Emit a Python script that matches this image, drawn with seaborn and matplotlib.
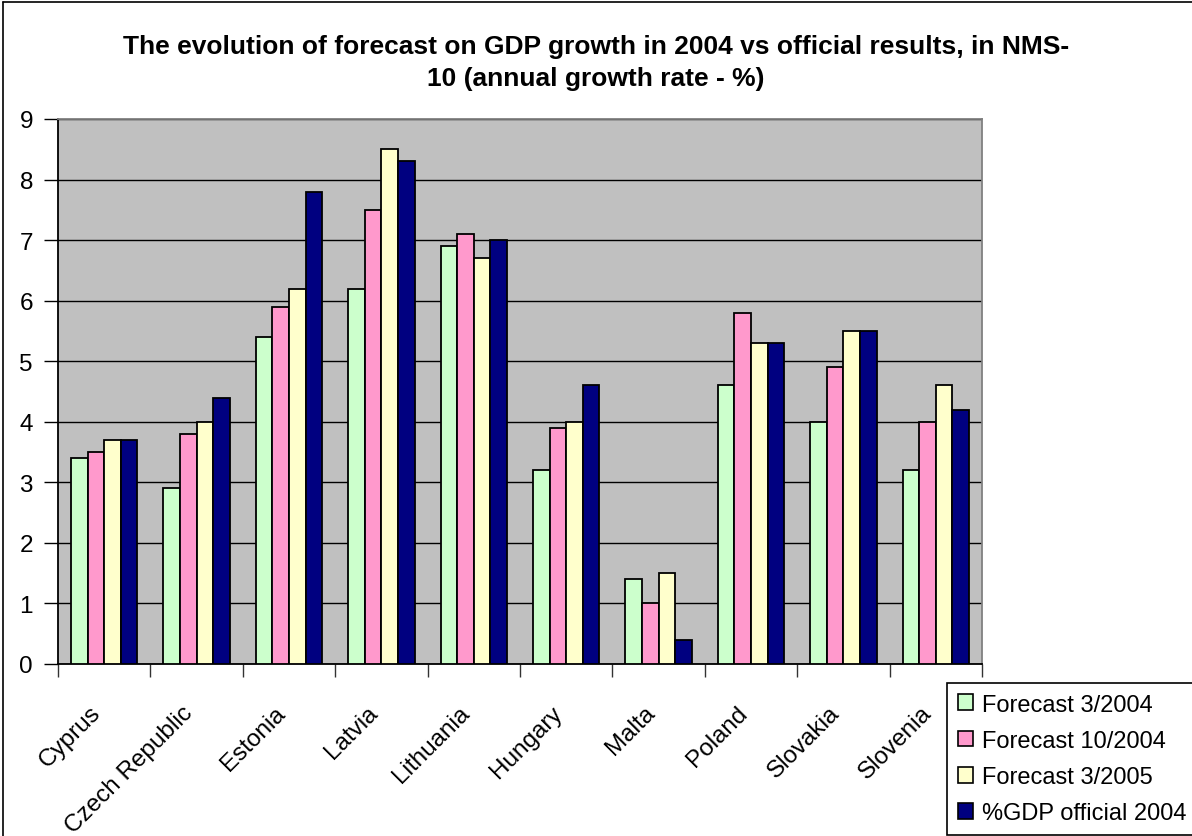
import matplotlib
matplotlib.use("Agg")
import matplotlib.pyplot as plt
import matplotlib.transforms as mtransforms
import seaborn as sns
import pandas as pd
import numpy as np
from matplotlib.patches import Patch
from matplotlib.lines import Line2D

countries = ["Cyprus", "Czech Republic", "Estonia", "Latvia", "Lithuania",
             "Hungary", "Malta", "Poland", "Slovakia", "Slovenia"]
series_names = ["Forecast 3/2004", "Forecast 10/2004", "Forecast 3/2005",
                "%GDP official 2004"]
forecast_3_2004 = [3.4, 2.9, 5.4, 6.2, 6.9, 3.2, 1.4, 4.6, 4.0, 3.2]
forecast_10_2004 = [3.5, 3.8, 5.9, 7.5, 7.1, 3.9, 1.0, 5.8, 4.9, 4.0]
forecast_3_2005 = [3.7, 4.0, 6.2, 8.5, 6.7, 4.0, 1.5, 5.3, 5.5, 4.6]
official_2004 = [3.7, 4.4, 7.8, 8.3, 7.0, 4.6, 0.4, 5.3, 5.5, 4.2]
y_ticks = list(range(0, 10))
title = ("The evolution of forecast on GDP growth in 2004 vs official results, in NMS-\n"
         "10 (annual growth rate - %)")

colors = ["#CCFFCC", "#FF99CC", "#FFFFCC", "#000080"]

rows = []
for name, vals in zip(series_names, [forecast_3_2004, forecast_10_2004,
                                     forecast_3_2005, official_2004]):
    for c, v in zip(countries, vals):
        rows.append({"Country": c, "Series": name, "Value": v})
df = pd.DataFrame(rows)

sns.set_theme(style="white")
plt.rcParams["font.family"] = ["Liberation Sans", "DejaVu Sans"]
plt.rcParams["text.color"] = "black"
plt.rcParams["xtick.color"] = "black"
plt.rcParams["ytick.color"] = "black"
plt.rcParams["axes.labelcolor"] = "black"

fig = plt.figure(figsize=(11.92, 8.37), dpi=100)
ax = fig.add_axes([58 / 1192, 1 - 665 / 837, 924 / 1192, 545 / 837])

sns.barplot(data=df, x="Country", y="Value", hue="Series", order=countries,
            hue_order=series_names, palette=colors, width=0.72, gap=0,
            edgecolor="black", linewidth=1.3, saturation=1, ax=ax, legend=False,
            zorder=3)

ax.set_facecolor("#C0C0C0")
ax.set_ylim(0, 9)
ax.set_xlim(-0.5, len(countries) - 0.5)
ax.set_yticks(y_ticks)
ax.set_yticklabels([str(t) for t in y_ticks], fontsize=17.5)
ax.yaxis.grid(True, color="black", linewidth=1.0, zorder=1)
ax.set_axisbelow(True)
ax.set_xlabel("")
ax.set_ylabel("")

# category labels
ax.set_xticks(np.arange(len(countries)))
ax.set_xticklabels(countries, rotation=45, ha="right", rotation_mode="anchor",
                   fontsize=17.5)
ax.tick_params(axis="x", which="major", length=0, pad=27)
offset = mtransforms.ScaledTranslation(-0.15, 0, fig.dpi_scale_trans)
for lab in ax.get_xticklabels():
    lab.set_transform(lab.get_transform() + offset)
# category boundary ticks
ax.set_xticks(np.arange(-0.5, len(countries), 1.0), minor=True)
ax.tick_params(axis="x", which="minor", length=9, width=1.0, color="#333333",
               direction="out", bottom=True)
ax.tick_params(axis="y", length=10, width=1.0, color="black", direction="out",
               left=True, pad=8)

for s in ["left", "bottom"]:
    ax.spines[s].set_color("black")
    ax.spines[s].set_linewidth(1.3)
for s in ["top", "right"]:
    ax.spines[s].set_color("#808080")
    ax.spines[s].set_linewidth(1.3)

fig.text(0.5, 1 - 63 / 837, title, ha="center", va="center", fontsize=19,
         fontweight="bold", linespacing=1.4, color="black")

handles = [Patch(facecolor=c, edgecolor="black", linewidth=1.2) for c in colors]
leg = fig.legend(handles, series_names, loc="upper left",
                 bbox_to_anchor=(947 / 1192, 1 - 684 / 837),
                 fontsize=17, frameon=True, fancybox=False,
                 edgecolor="black", framealpha=1, handlelength=0.65,
                 handleheight=0.65, handletextpad=0.4, labelspacing=0.6,
                 borderpad=0.45, borderaxespad=0)
leg.get_frame().set_linewidth(1.2)

# figure border (left and top visible)
fig.add_artist(Line2D([3 / 1192, 3 / 1192], [0, 1 - 3 / 837], color="black",
                      linewidth=1.2, transform=fig.transFigure))
fig.add_artist(Line2D([3 / 1192, 1], [1 - 3 / 837, 1 - 3 / 837], color="black",
                      linewidth=1.2, transform=fig.transFigure))

fig.savefig("out.png", dpi=100)
